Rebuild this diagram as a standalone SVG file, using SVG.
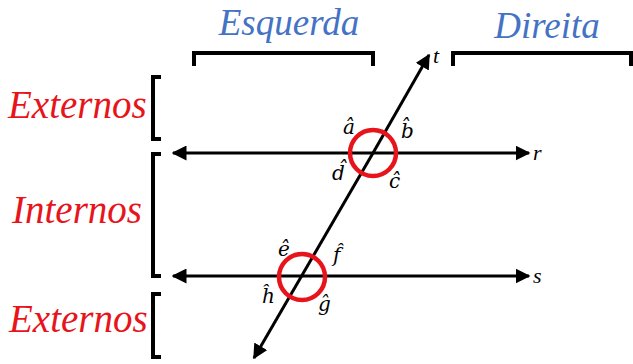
<svg xmlns="http://www.w3.org/2000/svg" width="633" height="364" viewBox="0 0 633 364">
<style>
.br{fill:none;stroke:#000;stroke-width:4;stroke-linejoin:miter}
.ln{stroke:#000;stroke-width:3;fill:none}
.ci{fill:none;stroke:#e8141b;stroke-width:4.5}
.red{font-family:"Liberation Serif",serif;font-style:italic;fill:#e8141b;font-size:39px}
.blue{font-family:"Liberation Serif",serif;font-style:italic;fill:#4472c4;font-size:37px}
.ang{font-family:"DejaVu Serif","Liberation Serif",serif;font-style:italic;fill:#000;font-size:20px}
.lab{font-family:"Liberation Serif",serif;font-style:italic;fill:#000;font-size:22px}
</style>
<defs>
<marker id="ah" viewBox="0 0 10 10" refX="9" refY="5" markerWidth="5" markerHeight="5" orient="auto" markerUnits="strokeWidth">
<path d="M0,0 L10,5 L0,10 z" fill="#000"/>
</marker>
</defs>
<g id="title-esquerda"><text class="blue" x="289" y="35" text-anchor="middle">Esquerda</text>
<path class="br" d="M194,66 V53 H373 V66"/></g>
<g id="title-direita"><text class="blue" x="547" y="38" text-anchor="middle">Direita</text>
<path class="br" d="M453,66 V53 H631 V66"/></g>
<g id="externos-top"><text class="red" x="8" y="118">Externos</text>
<path class="br" d="M161,77 H153 V139 H161"/></g>
<g id="internos"><text class="red" x="12" y="223">Internos</text>
<path class="br" d="M161,154 H153 V276 H161"/></g>
<g id="externos-bottom"><text class="red" x="9" y="332">Externos</text>
<path class="br" d="M161,294 H153 V357 H161"/></g>
<g id="connectors">
<line class="ln" x1="373" y1="153" x2="173" y2="153" marker-end="url(#ah)"/>
<line class="ln" x1="373" y1="153" x2="529" y2="153" marker-end="url(#ah)"/>
<line class="ln" x1="302" y1="276" x2="173" y2="276" marker-end="url(#ah)"/>
<line class="ln" x1="302" y1="276" x2="529" y2="276" marker-end="url(#ah)"/>
<line class="ln" x1="373" y1="153" x2="429" y2="55" marker-end="url(#ah)"/>
<line class="ln" x1="373" y1="153" x2="254" y2="358" marker-end="url(#ah)"/>
</g>
<g id="labels">
<text class="lab" x="533" y="160">r</text>
<text class="lab" x="533" y="283">s</text>
<text class="lab" x="433" y="63">t</text>
</g>
<g id="intersection-r"><circle class="ci" cx="373" cy="153" r="23"/>
<text class="ang" x="343" y="134">â</text>
<text class="ang" x="401" y="138">b̂</text>
<text class="ang" x="332" y="180">d̂</text>
<text class="ang" x="389" y="188">ĉ</text></g>
<g id="intersection-s"><circle class="ci" cx="302" cy="277" r="23"/>
<text class="ang" x="278" y="256">ê</text>
<text class="ang" x="333" y="262">f̂</text>
<text class="ang" x="262" y="303">ĥ</text>
<text class="ang" x="318" y="311">ĝ</text></g>
</svg>
